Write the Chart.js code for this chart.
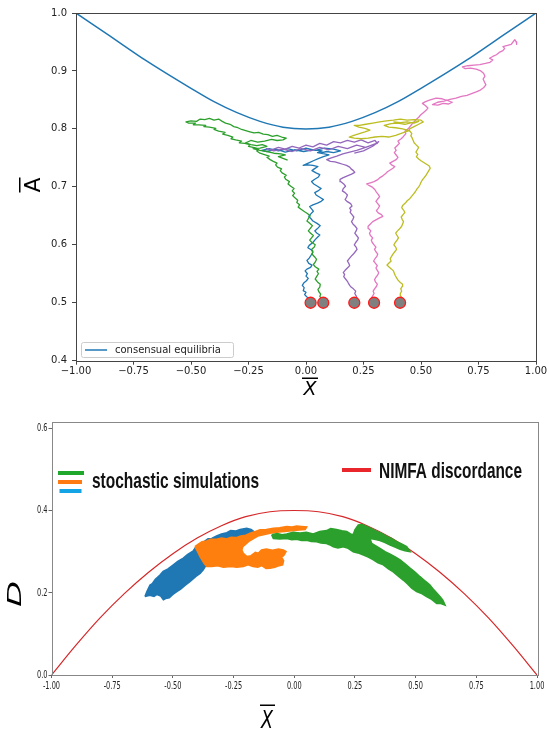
<!DOCTYPE html>
<html>
<head>
<meta charset="utf-8">
<script src="https://cdn.jsdelivr.net/npm/chart.js@4.4.0/dist/chart.umd.min.js"></script>
<style>
body{margin:0;background:#fff;width:549px;height:729px;position:relative;overflow:hidden}
#topChart{position:absolute;left:0;top:0}
#botChart{position:absolute;left:0;top:400px}
</style>
</head>
<body>
<canvas id="topChart" width="549" height="400"></canvas>
<canvas id="botChart" width="549" height="329"></canvas>
<script>
// ---- top panel: consensual equilibria + 5 stochastic walks
var xTicks = [-1, -0.75, -0.5, -0.25, 0, 0.25, 0.5, 0.75, 1];
var yTicksTop = [0.4, 0.5, 0.6, 0.7, 0.8, 0.9, 1.0];
var yTicksBot = [0, 0.2, 0.4, 0.6];

var equilX = [-1, -0.9, -0.8, -0.7, -0.6, -0.5, -0.4, -0.3, -0.2, -0.1, 0, 0.1, 0.2, 0.3, 0.4, 0.5, 0.6, 0.7, 0.8, 0.9, 1];
var equilY = [1.0, 0.973, 0.946, 0.919, 0.894, 0.870, 0.847, 0.828, 0.813, 0.803, 0.8, 0.803, 0.813, 0.828, 0.847, 0.870, 0.894, 0.919, 0.946, 0.973, 1.0];

var startX = [0.02, 0.075, 0.21, 0.296, 0.409];
var startY = [0.5, 0.5, 0.5, 0.5, 0.5];

var walkBlue = [[0.020,0.500],[0.012,0.504],[0.018,0.507],[0.004,0.510],[-0.006,0.514],[0.000,0.518],[-0.012,0.521],[-0.008,0.526],[-0.016,0.530],[-0.010,0.534],[0.002,0.538],[0.010,0.542],[0.000,0.546],[0.006,0.550],[-0.004,0.555],[0.004,0.558],[0.020,0.561],[0.026,0.565],[0.012,0.568],[0.004,0.573],[0.014,0.577],[0.022,0.582],[0.030,0.587],[0.024,0.591],[0.008,0.595],[0.014,0.599],[0.030,0.604],[0.040,0.609],[0.050,0.613],[0.060,0.617],[0.048,0.620],[0.038,0.624],[0.050,0.628],[0.062,0.633],[0.048,0.637],[0.030,0.641],[0.022,0.645],[0.012,0.649],[0.020,0.653],[0.032,0.658],[0.024,0.662],[0.016,0.666],[0.030,0.669],[0.050,0.672],[0.066,0.675],[0.076,0.678],[0.060,0.682],[0.044,0.686],[0.038,0.690],[0.052,0.693],[0.066,0.697],[0.050,0.701],[0.034,0.705],[0.024,0.709],[0.038,0.713],[0.054,0.717],[0.060,0.721],[0.044,0.724],[0.026,0.728],[0.036,0.731],[0.052,0.735],[0.030,0.737],[0.008,0.738],[-0.012,0.737],[0.010,0.741],[0.032,0.745],[0.056,0.749],[0.076,0.752],[0.100,0.755],[0.080,0.757],[0.050,0.759],[0.070,0.762],[0.030,0.764],[-0.010,0.761],[-0.050,0.764],[-0.090,0.760],[-0.130,0.765],[-0.170,0.761],[-0.193,0.763],[-0.160,0.766],[-0.120,0.762],[-0.080,0.766],[-0.040,0.762],[0.000,0.767],[0.040,0.763],[0.080,0.767],[0.120,0.765],[0.150,0.762],[0.120,0.759],[0.090,0.761],[0.060,0.758]];

var walkGreen = [[0.075,0.500],[0.070,0.504],[0.066,0.508],[0.060,0.511],[0.064,0.515],[0.056,0.519],[0.052,0.523],[0.060,0.527],[0.062,0.532],[0.050,0.536],[0.040,0.541],[0.046,0.545],[0.054,0.550],[0.048,0.554],[0.056,0.558],[0.040,0.562],[0.032,0.566],[0.040,0.570],[0.046,0.575],[0.038,0.579],[0.026,0.584],[0.030,0.589],[0.024,0.592],[0.036,0.596],[0.040,0.600],[0.026,0.604],[0.016,0.608],[0.024,0.612],[0.032,0.616],[0.020,0.620],[0.010,0.624],[0.018,0.628],[0.028,0.633],[0.016,0.637],[0.004,0.641],[0.010,0.645],[0.018,0.650],[0.006,0.654],[-0.006,0.657],[-0.020,0.661],[-0.034,0.665],[-0.028,0.669],[-0.040,0.673],[-0.036,0.677],[-0.048,0.681],[-0.058,0.685],[-0.050,0.689],[-0.060,0.693],[-0.052,0.697],[-0.066,0.701],[-0.078,0.705],[-0.072,0.709],[-0.088,0.713],[-0.094,0.717],[-0.086,0.720],[-0.104,0.724],[-0.112,0.728],[-0.106,0.731],[-0.124,0.734],[-0.132,0.738],[-0.126,0.741],[-0.142,0.744],[-0.156,0.747],[-0.170,0.751],[-0.160,0.753],[-0.184,0.756],[-0.200,0.758],[-0.214,0.762],[-0.206,0.765],[-0.230,0.768],[-0.250,0.770],[-0.244,0.773],[-0.266,0.775],[-0.290,0.776],[-0.280,0.779],[-0.306,0.781],[-0.326,0.783],[-0.318,0.786],[-0.340,0.789],[-0.362,0.791],[-0.352,0.794],[-0.380,0.796],[-0.400,0.799],[-0.392,0.801],[-0.420,0.803],[-0.444,0.804],[-0.436,0.806],[-0.466,0.807],[-0.490,0.807],[-0.480,0.810],[-0.510,0.810],[-0.522,0.812],[-0.500,0.814],[-0.476,0.813],[-0.460,0.817],[-0.440,0.816],[-0.420,0.818],[-0.400,0.815],[-0.380,0.817],[-0.364,0.813],[-0.350,0.810],[-0.330,0.808],[-0.314,0.804],[-0.296,0.802],[-0.280,0.799],[-0.262,0.797],[-0.244,0.795],[-0.226,0.793],[-0.206,0.794],[-0.186,0.791],[-0.166,0.790],[-0.146,0.787],[-0.126,0.789],[-0.106,0.786],[-0.086,0.784],[-0.100,0.781],[-0.126,0.780],[-0.150,0.782],[-0.180,0.779],[-0.210,0.777],[-0.240,0.780],[-0.262,0.776],[-0.240,0.773],[-0.214,0.771],[-0.190,0.773],[-0.170,0.770],[-0.200,0.767],[-0.230,0.766],[-0.200,0.763],[-0.170,0.761],[-0.140,0.758],[-0.110,0.757],[-0.090,0.755],[-0.120,0.752],[-0.100,0.749],[-0.080,0.746]];

var walkPurple = [[0.210,0.500],[0.216,0.504],[0.222,0.508],[0.218,0.512],[0.212,0.516],[0.216,0.520],[0.206,0.524],[0.196,0.527],[0.190,0.530],[0.184,0.534],[0.180,0.537],[0.172,0.541],[0.164,0.545],[0.168,0.549],[0.162,0.552],[0.170,0.556],[0.180,0.560],[0.190,0.564],[0.186,0.568],[0.180,0.572],[0.188,0.576],[0.196,0.580],[0.206,0.584],[0.214,0.588],[0.222,0.592],[0.218,0.596],[0.210,0.600],[0.216,0.604],[0.224,0.608],[0.228,0.612],[0.220,0.616],[0.212,0.620],[0.218,0.624],[0.222,0.628],[0.214,0.632],[0.204,0.636],[0.198,0.640],[0.204,0.644],[0.208,0.648],[0.200,0.652],[0.192,0.656],[0.196,0.660],[0.190,0.663],[0.200,0.667],[0.194,0.671],[0.178,0.675],[0.170,0.678],[0.176,0.682],[0.180,0.686],[0.170,0.690],[0.158,0.693],[0.162,0.697],[0.172,0.701],[0.164,0.705],[0.152,0.709],[0.148,0.713],[0.162,0.716],[0.180,0.719],[0.198,0.722],[0.212,0.725],[0.206,0.728],[0.196,0.731],[0.190,0.734],[0.176,0.737],[0.160,0.739],[0.144,0.741],[0.126,0.743],[0.106,0.744],[0.090,0.747],[0.110,0.750],[0.134,0.753],[0.160,0.757],[0.190,0.760],[0.220,0.763],[0.250,0.767],[0.280,0.771],[0.310,0.775],[0.300,0.780],[0.270,0.776],[0.240,0.781],[0.210,0.777],[0.180,0.780],[0.150,0.776],[0.120,0.778],[0.090,0.772],[0.060,0.775],[0.030,0.769],[0.000,0.772],[-0.030,0.767],[-0.060,0.770],[-0.090,0.765],[-0.120,0.768],[-0.150,0.764],[-0.172,0.766],[-0.140,0.762],[-0.100,0.765],[-0.060,0.761],[-0.020,0.766],[0.020,0.762],[0.060,0.768],[0.100,0.764],[0.140,0.770],[0.180,0.766],[0.220,0.772],[0.260,0.768],[0.300,0.774],[0.316,0.778],[0.290,0.770],[0.250,0.762],[0.210,0.758]];

var walkPink = [[0.296,0.500],[0.290,0.504],[0.284,0.508],[0.290,0.512],[0.296,0.516],[0.292,0.520],[0.298,0.524],[0.306,0.528],[0.310,0.532],[0.302,0.536],[0.298,0.540],[0.304,0.544],[0.312,0.548],[0.316,0.552],[0.310,0.556],[0.304,0.560],[0.310,0.564],[0.302,0.568],[0.294,0.572],[0.300,0.576],[0.308,0.580],[0.312,0.584],[0.304,0.588],[0.298,0.592],[0.304,0.596],[0.296,0.600],[0.288,0.604],[0.284,0.608],[0.290,0.612],[0.280,0.616],[0.276,0.620],[0.282,0.624],[0.272,0.628],[0.270,0.632],[0.280,0.636],[0.290,0.640],[0.304,0.643],[0.318,0.646],[0.334,0.649],[0.328,0.652],[0.314,0.655],[0.306,0.659],[0.314,0.663],[0.320,0.667],[0.312,0.671],[0.304,0.675],[0.312,0.679],[0.320,0.683],[0.314,0.687],[0.306,0.691],[0.300,0.695],[0.290,0.699],[0.276,0.702],[0.264,0.705],[0.280,0.707],[0.296,0.709],[0.310,0.712],[0.322,0.716],[0.334,0.719],[0.344,0.722],[0.354,0.726],[0.366,0.729],[0.378,0.732],[0.386,0.735],[0.372,0.738],[0.364,0.741],[0.378,0.744],[0.392,0.747],[0.400,0.751],[0.392,0.755],[0.384,0.759],[0.392,0.763],[0.386,0.767],[0.396,0.771],[0.406,0.775],[0.400,0.779],[0.414,0.783],[0.424,0.787],[0.434,0.792],[0.430,0.796],[0.444,0.800],[0.452,0.804],[0.460,0.808],[0.470,0.812],[0.478,0.816],[0.490,0.820],[0.498,0.824],[0.510,0.828],[0.522,0.832],[0.530,0.836],[0.520,0.840],[0.506,0.844],[0.520,0.847],[0.540,0.850],[0.566,0.853],[0.592,0.852],[0.614,0.849],[0.636,0.846],[0.620,0.843],[0.596,0.844],[0.574,0.841],[0.550,0.842],[0.572,0.846],[0.600,0.848],[0.626,0.851],[0.652,0.853],[0.676,0.856],[0.700,0.858],[0.720,0.861],[0.740,0.864],[0.758,0.867],[0.772,0.871],[0.782,0.876],[0.776,0.881],[0.770,0.886],[0.778,0.891],[0.772,0.896],[0.760,0.900],[0.740,0.903],[0.716,0.905],[0.692,0.904],[0.680,0.907],[0.704,0.909],[0.730,0.910],[0.756,0.911],[0.780,0.913],[0.800,0.915],[0.812,0.919],[0.798,0.922],[0.812,0.925],[0.828,0.928],[0.840,0.932],[0.856,0.935],[0.864,0.939],[0.856,0.942],[0.876,0.944],[0.892,0.946],[0.900,0.950],[0.908,0.954],[0.914,0.950],[0.916,0.946]];

var walkOlive = [[0.409,0.500],[0.414,0.504],[0.418,0.508],[0.412,0.512],[0.410,0.516],[0.416,0.520],[0.412,0.524],[0.418,0.528],[0.420,0.532],[0.410,0.535],[0.400,0.539],[0.394,0.543],[0.388,0.547],[0.384,0.551],[0.380,0.555],[0.372,0.558],[0.360,0.562],[0.352,0.565],[0.362,0.569],[0.370,0.572],[0.366,0.576],[0.372,0.580],[0.378,0.584],[0.386,0.588],[0.394,0.592],[0.390,0.596],[0.382,0.600],[0.388,0.604],[0.396,0.608],[0.402,0.612],[0.396,0.616],[0.390,0.620],[0.398,0.624],[0.408,0.628],[0.416,0.632],[0.420,0.636],[0.424,0.640],[0.418,0.644],[0.414,0.648],[0.422,0.652],[0.430,0.656],[0.424,0.660],[0.416,0.664],[0.420,0.668],[0.432,0.672],[0.440,0.676],[0.452,0.680],[0.460,0.684],[0.468,0.688],[0.476,0.692],[0.482,0.696],[0.490,0.700],[0.496,0.704],[0.500,0.708],[0.506,0.712],[0.514,0.716],[0.522,0.720],[0.528,0.724],[0.534,0.728],[0.540,0.732],[0.536,0.736],[0.524,0.739],[0.512,0.742],[0.500,0.745],[0.490,0.748],[0.480,0.752],[0.486,0.756],[0.478,0.760],[0.484,0.764],[0.490,0.768],[0.480,0.772],[0.470,0.776],[0.466,0.780],[0.462,0.784],[0.456,0.788],[0.460,0.792],[0.452,0.796],[0.450,0.800],[0.470,0.804],[0.490,0.808],[0.510,0.812],[0.500,0.815],[0.470,0.816],[0.440,0.815],[0.410,0.817],[0.380,0.815],[0.350,0.814],[0.320,0.812],[0.290,0.810],[0.260,0.808],[0.232,0.806],[0.210,0.806],[0.230,0.803],[0.256,0.801],[0.278,0.798],[0.256,0.795],[0.232,0.792],[0.208,0.789],[0.188,0.786],[0.210,0.784],[0.240,0.783],[0.270,0.784],[0.300,0.786],[0.330,0.787],[0.360,0.786],[0.390,0.789],[0.420,0.793],[0.448,0.797],[0.420,0.800],[0.390,0.802],[0.360,0.803],[0.340,0.806],[0.370,0.809],[0.400,0.810],[0.430,0.808],[0.460,0.811],[0.490,0.813],[0.470,0.810],[0.440,0.812],[0.410,0.811],[0.380,0.812]];

// ---- bottom panel: NIMFA discordance + 3 simulations (walk envelopes)
var discX = [-1, -0.9, -0.8, -0.7, -0.6, -0.5, -0.4, -0.3, -0.2, -0.1, 0, 0.1, 0.2, 0.3, 0.4, 0.5, 0.6, 0.7, 0.8, 0.9, 1];
var discY = [0, 0.072, 0.139, 0.198, 0.250, 0.295, 0.333, 0.363, 0.385, 0.397, 0.4, 0.397, 0.385, 0.363, 0.333, 0.295, 0.250, 0.198, 0.139, 0.072, 0];

var simBlue = [[-0.615,0.191],[-0.606,0.204],[-0.594,0.219],[-0.585,0.222],[-0.572,0.233],[-0.553,0.243],[-0.540,0.252],[-0.520,0.258],[-0.498,0.268],[-0.480,0.276],[-0.457,0.284],[-0.440,0.293],[-0.416,0.302],[-0.405,0.311],[-0.394,0.316],[-0.380,0.322],[-0.370,0.325],[-0.355,0.331],[-0.340,0.332],[-0.320,0.338],[-0.300,0.343],[-0.278,0.346],[-0.262,0.351],[-0.240,0.350],[-0.223,0.354],[-0.196,0.357],[-0.178,0.354],[-0.165,0.348],[-0.180,0.340],[-0.210,0.332],[-0.250,0.326],[-0.300,0.318],[-0.340,0.300],[-0.360,0.270],[-0.375,0.256],[-0.388,0.247],[-0.405,0.240],[-0.430,0.227],[-0.450,0.218],[-0.468,0.209],[-0.484,0.203],[-0.500,0.196],[-0.515,0.188],[-0.530,0.186],[-0.539,0.183],[-0.550,0.192],[-0.565,0.196],[-0.578,0.191],[-0.595,0.194],[-0.615,0.191]];

var simOrange = [[-0.409,0.312],[-0.395,0.318],[-0.380,0.324],[-0.361,0.326],[-0.345,0.330],[-0.320,0.330],[-0.300,0.333],[-0.280,0.331],[-0.260,0.335],[-0.240,0.334],[-0.220,0.338],[-0.200,0.340],[-0.182,0.345],[-0.160,0.349],[-0.141,0.353],[-0.115,0.354],[-0.086,0.357],[-0.060,0.358],[-0.031,0.361],[-0.010,0.360],[0.010,0.362],[0.030,0.361],[0.051,0.360],[0.045,0.354],[0.020,0.353],[-0.010,0.351],[-0.040,0.349],[-0.073,0.347],[-0.100,0.345],[-0.127,0.341],[-0.150,0.338],[-0.168,0.332],[-0.185,0.326],[-0.200,0.318],[-0.212,0.312],[-0.216,0.304],[-0.210,0.296],[-0.195,0.288],[-0.178,0.290],[-0.160,0.298],[-0.148,0.296],[-0.135,0.304],[-0.115,0.306],[-0.090,0.303],[-0.065,0.306],[-0.045,0.304],[-0.034,0.300],[-0.042,0.292],[-0.052,0.286],[-0.044,0.278],[-0.048,0.268],[-0.062,0.266],[-0.080,0.262],[-0.100,0.260],[-0.116,0.259],[-0.134,0.266],[-0.150,0.262],[-0.170,0.264],[-0.190,0.268],[-0.210,0.264],[-0.237,0.262],[-0.260,0.264],[-0.292,0.262],[-0.315,0.266],[-0.340,0.264],[-0.361,0.264],[-0.372,0.272],[-0.388,0.288],[-0.398,0.300],[-0.409,0.312]];

var simGreen = [[-0.093,0.341],[-0.070,0.344],[-0.050,0.341],[-0.031,0.343],[-0.005,0.347],[0.024,0.345],[0.050,0.347],[0.078,0.343],[0.105,0.349],[0.133,0.351],[0.150,0.356],[0.174,0.354],[0.196,0.351],[0.216,0.349],[0.232,0.343],[0.243,0.341],[0.250,0.353],[0.264,0.365],[0.280,0.366],[0.298,0.361],[0.318,0.356],[0.340,0.349],[0.360,0.344],[0.381,0.337],[0.400,0.332],[0.422,0.324],[0.440,0.319],[0.463,0.312],[0.477,0.300],[0.456,0.302],[0.436,0.306],[0.415,0.311],[0.395,0.316],[0.374,0.322],[0.353,0.327],[0.330,0.330],[0.312,0.332],[0.319,0.320],[0.336,0.314],[0.353,0.308],[0.374,0.300],[0.395,0.294],[0.416,0.287],[0.436,0.280],[0.455,0.271],[0.477,0.260],[0.496,0.251],[0.518,0.239],[0.540,0.228],[0.559,0.219],[0.575,0.207],[0.600,0.191],[0.612,0.182],[0.621,0.170],[0.604,0.174],[0.587,0.174],[0.566,0.184],[0.545,0.191],[0.522,0.199],[0.504,0.203],[0.484,0.211],[0.466,0.222],[0.449,0.231],[0.430,0.240],[0.408,0.251],[0.388,0.258],[0.367,0.268],[0.345,0.273],[0.326,0.280],[0.305,0.287],[0.285,0.292],[0.262,0.297],[0.243,0.300],[0.222,0.308],[0.202,0.312],[0.180,0.309],[0.161,0.312],[0.145,0.317],[0.133,0.320],[0.110,0.321],[0.092,0.324],[0.070,0.325],[0.051,0.328],[0.030,0.327],[0.010,0.330],[-0.010,0.329],[-0.031,0.332],[-0.060,0.331],[-0.086,0.332],[-0.093,0.341]];

function pts(arr){ return arr.map(function(p){ return {x:p[0], y:p[1]}; }); }
function zip(xs, ys){ return xs.map(function(x,i){ return {x:x, y:ys[i]}; }); }

function walkSet(arr, color, ord, w){
    return { data: pts(arr), showLine: true, pointRadius: 0, borderColor: color, borderWidth: w, order: ord, tension: 0, borderJoinStyle: 'round' };
}

function blobSet(arr, color, ord){
    return { data: pts(arr), showLine: true, pointRadius: 0, borderColor: color, backgroundColor: color, fill: 'shape', borderWidth: 1.6, order: ord, tension: 0 };
}

function fmtTop(v){
    return (v < 0 ? '\u2212' : '') + Math.abs(v).toFixed(2);
}

function drawFrame(chart, color){
    var a = chart.chartArea, c = chart.ctx;
    c.save();
    c.strokeStyle = color;
    c.lineWidth = 1;
    c.strokeRect(Math.round(a.left) + 0.5, Math.round(a.top) + 0.5, Math.round(a.right - a.left), Math.round(a.bottom - a.top));
    c.restore();
}

var topDeco = {
    id: 'topDeco',
    afterDatasetsDraw: function(chart){
        drawFrame(chart, '#444');
    },
    afterDraw: function(chart){
        var c = chart.ctx;
        c.save();
        // legend box
        c.fillStyle = 'rgba(255,255,255,0.8)';
        c.strokeStyle = '#cccccc';
        c.lineWidth = 1;
        c.beginPath();
        c.roundRect(81.5, 342.5, 152, 15, 2);
        c.fill();
        c.stroke();
        c.strokeStyle = '#1f77b4';
        c.lineWidth = 1.5;
        c.beginPath();
        c.moveTo(85, 350);
        c.lineTo(107, 350);
        c.stroke();
        c.fillStyle = '#222';
        c.font = '10px "DejaVu Sans"';
        c.textBaseline = 'middle';
        c.textAlign = 'left';
        c.fillText('consensual equilibria', 115, 350.5);

        // x label  X-bar
        c.fillStyle = '#000';
        c.font = 'italic 19px "DejaVu Sans"';
        c.textAlign = 'center';
        c.textBaseline = 'alphabetic';
        c.fillText('X', 310, 395);
        c.fillRect(302, 377.5, 16, 1.5);

        // y label  A-bar
        c.translate(32, 185);
        c.rotate(-Math.PI / 2);
        c.font = '22px "DejaVu Sans"';
        c.fillText('A', 0, 8);
        c.fillRect(-7.5, -13, 15, 1.5);
        c.restore();
    }
};

var botDeco = {
    id: 'botDeco',
    afterDatasetsDraw: function(chart){
        drawFrame(chart, '#888');
    },
    afterDraw: function(chart){
        var c = chart.ctx, sx = chart.scales.x, sy = chart.scales.y;
        c.save();
        c.fillStyle = '#222';
        c.font = '11px "DejaVu Sans"';
        c.textBaseline = 'middle';
        xTicks.forEach(function(v){
            c.save();
            c.translate(sx.getPixelForValue(v), 286);
            c.scale(0.6, 1);
            c.textAlign = 'center';
            c.fillText(v.toFixed(2), 0, 0);
            c.restore();
        });
        yTicksBot.forEach(function(v){
            c.save();
            c.translate(47.5, sy.getPixelForValue(v));
            c.scale(0.6, 1);
            c.textAlign = 'right';
            c.fillText(v.toFixed(1), 0, 0);
            c.restore();
        });

        // legend
        c.fillStyle = '#1fa82b'; c.fillRect(58, 71, 26, 4);
        c.fillStyle = '#ff7a12'; c.fillRect(58, 80, 24, 4);
        c.fillStyle = '#14a4e6'; c.fillRect(59.5, 89, 22, 4);
        c.fillStyle = '#e8262c'; c.fillRect(342, 68, 29, 4);

        c.fillStyle = '#111';
        c.font = 'bold 22px "Liberation Sans"';
        c.textAlign = 'left';
        c.textBaseline = 'alphabetic';
        var t1 = 'stochastic simulations', t2 = 'NIMFA discordance';
        var w1 = c.measureText(t1).width, w2 = c.measureText(t2).width;
        c.save(); c.translate(92, 87.5); c.scale(167 / w1, 1); c.fillText(t1, 0, 0); c.restore();
        c.save(); c.translate(379, 77.5); c.scale(143 / w2, 1); c.fillText(t2, 0, 0); c.restore();

        // x label X-bar
        c.fillStyle = '#000';
        c.save();
        c.translate(267, 328);
        c.scale(0.7, 1);
        c.font = 'italic 25px "DejaVu Sans"';
        c.textAlign = 'center';
        c.fillText('X', 0, 0);
        c.restore();
        c.fillRect(260, 304.5, 15, 1.5);

        // y label D
        c.save();
        c.translate(21, 194);
        c.rotate(-Math.PI / 2);
        c.scale(1, 0.56);
        c.font = 'italic 34px "DejaVu Sans"';
        c.textAlign = 'center';
        c.fillText('D', 0, 0);
        c.restore();
        c.restore();
    }
};

new Chart(document.getElementById('topChart'), {
    type: 'scatter',
    data: {
        datasets: [
            { data: zip(equilX, equilY), showLine: true, pointRadius: 0, borderColor: '#1f77b4', borderWidth: 1.5, cubicInterpolationMode: 'monotone', order: 6 },
            walkSet(walkBlue, '#1f77b4', 5, 1.3),
            walkSet(walkGreen, '#2ca02c', 4, 1.3),
            walkSet(walkPurple, '#9467bd', 3, 1.3),
            walkSet(walkPink, '#e377c2', 2, 1.3),
            walkSet(walkOlive, '#bcbd22', 1, 1.3),
            { data: zip(startX, startY), pointRadius: 5.5, pointBackgroundColor: '#808080', pointBorderColor: '#ff1a1a', pointBorderWidth: 1.3, order: 0 }
        ]
    },
    options: {
        responsive: false,
        animation: false,
        devicePixelRatio: 1,
        events: [],
        layout: { padding: { left: 0, right: 13, top: 13, bottom: 0 } },
        plugins: { legend: { display: false }, tooltip: { enabled: false } },
        scales: {
            x: {
                type: 'linear', min: -1, max: 1,
                afterBuildTicks: function(s){ s.ticks = xTicks.map(function(v){ return {value: v}; }); },
                afterFit: function(s){ s.height = 39.3; },
                grid: { drawOnChartArea: false, drawTicks: true, tickLength: 4, color: '#444' },
                border: { display: false },
                ticks: { callback: fmtTop, color: '#222', padding: 1, maxRotation: 0, font: { family: 'DejaVu Sans', size: 10 } }
            },
            y: {
                type: 'linear', min: 0.4, max: 1.0,
                afterBuildTicks: function(s){ s.ticks = yTicksTop.map(function(v){ return {value: v}; }); },
                afterFit: function(s){ s.width = 76; },
                grid: { drawOnChartArea: false, drawTicks: true, tickLength: 4, color: '#444' },
                border: { display: false },
                ticks: { callback: function(v){ return v.toFixed(1); }, color: '#222', padding: 5, font: { family: 'DejaVu Sans', size: 10 } }
            }
        }
    },
    plugins: [topDeco]
});

new Chart(document.getElementById('botChart'), {
    type: 'scatter',
    data: {
        datasets: [
            { data: zip(discX, discY), showLine: true, pointRadius: 0, borderColor: '#d62728', borderWidth: 1.2, cubicInterpolationMode: 'monotone', order: 4 },
            blobSet(simBlue, '#1f77b4', 3),
            blobSet(simOrange, '#ff7f0e', 2),
            blobSet(simGreen, '#2ca02c', 1)
        ]
    },
    options: {
        responsive: false,
        animation: false,
        devicePixelRatio: 1,
        events: [],
        layout: { padding: { left: 0, right: 12, top: 21.7, bottom: 0 } },
        plugins: { legend: { display: false }, tooltip: { enabled: false } },
        scales: {
            x: {
                type: 'linear', min: -1, max: 1,
                afterBuildTicks: function(s){ s.ticks = xTicks.map(function(v){ return {value: v}; }); },
                afterFit: function(s){ s.height = 54; },
                grid: { drawOnChartArea: false, drawTicks: true, tickLength: 3, color: '#666' },
                border: { display: false },
                ticks: { display: false }
            },
            y: {
                type: 'linear', min: 0, max: 0.616,
                afterBuildTicks: function(s){ s.ticks = yTicksBot.map(function(v){ return {value: v}; }); },
                afterFit: function(s){ s.width = 51.5; },
                grid: { drawOnChartArea: false, drawTicks: true, tickLength: 3, color: '#666' },
                border: { display: false },
                ticks: { display: false }
            }
        }
    },
    plugins: [botDeco]
});
</script>
</body>
</html>
